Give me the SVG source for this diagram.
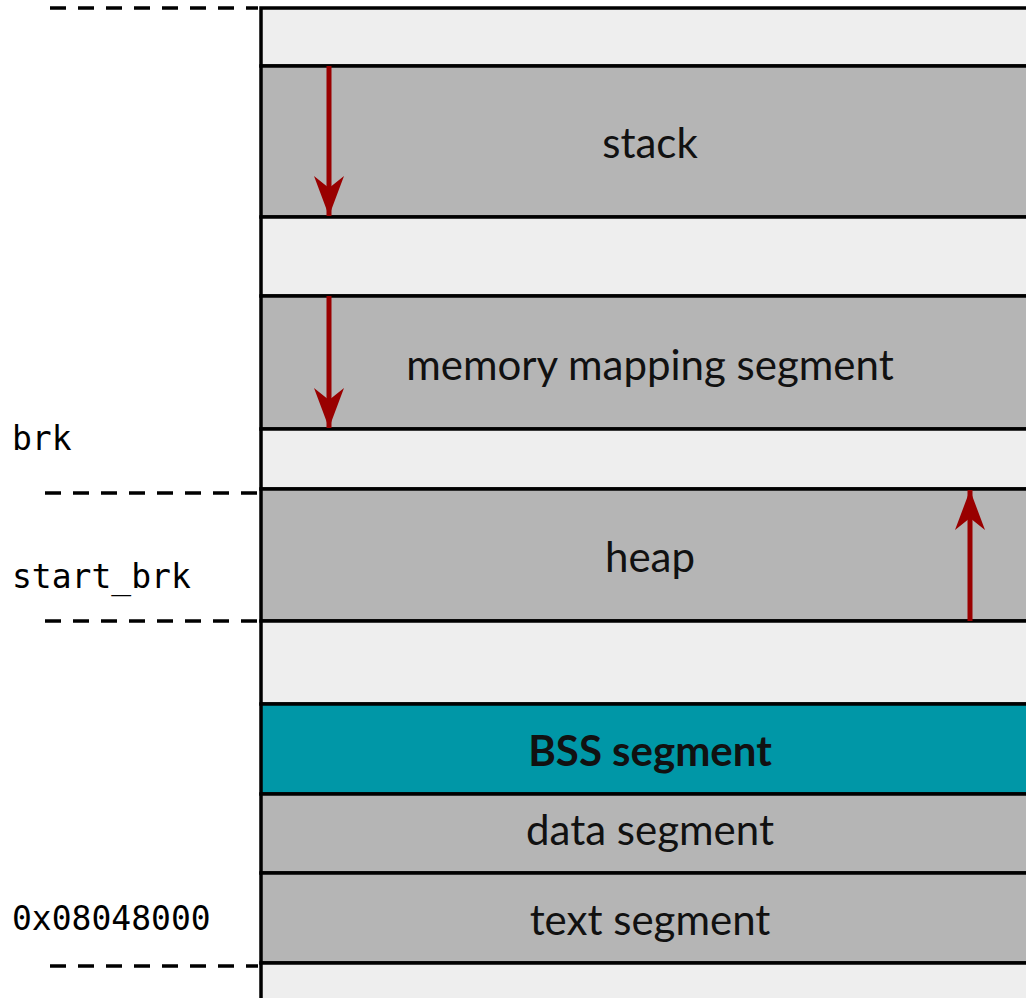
<svg xmlns="http://www.w3.org/2000/svg" width="1026" height="998" viewBox="0 0 1026 998">
  <style>
    .light { fill: #eeeeee; stroke: #000; stroke-width: 3.5; }
    .seg { fill: #b5b5b5; stroke: #000; stroke-width: 3.5; }
    .bss { fill: #0097a7; stroke: #000; stroke-width: 3.5; }
    .lbl { font-family: Lato, "Open Sans", sans-serif; font-size: 42px; fill: #111; text-anchor: middle; }
    .bold { font-weight: bold; }
    .addr { font-family: "DejaVu Sans Mono", "Liberation Mono", monospace; font-size: 33px; fill: #000; }
    .dash { stroke: #000; stroke-width: 3.5; stroke-dasharray: 16 12; fill: none; }
    .arrow { stroke: #990000; stroke-width: 5; fill: none; marker-end: url(#head); }
  </style>
  <defs>
    <marker id="head" viewBox="0 0 40 30" refX="40" refY="15" markerWidth="40" markerHeight="30" markerUnits="userSpaceOnUse" orient="auto">
      <path d="M0,0 L40,15 L0,30 L12,15 Z" fill="#990000"/>
    </marker>
  </defs>
  <rect width="1026" height="998" fill="#fff"/>

  <g id="gap-top"><rect class="light" x="261" y="8" width="800" height="58"/></g>
  <g id="stack"><rect class="seg" x="261" y="66" width="800" height="151"/><text class="lbl" x="650" y="158">stack</text></g>
  <g id="gap-1"><rect class="light" x="261" y="217" width="800" height="79"/></g>
  <g id="mmap"><rect class="seg" x="261" y="296" width="800" height="133"/><text class="lbl" x="650" y="380">memory mapping segment</text></g>
  <g id="gap-2"><rect class="light" x="261" y="429" width="800" height="60"/></g>
  <g id="heap"><rect class="seg" x="261" y="489" width="800" height="132"/><text class="lbl" x="650" y="572">heap</text></g>
  <g id="gap-3"><rect class="light" x="261" y="621" width="800" height="83"/></g>
  <g id="bss"><rect class="bss" x="261" y="704" width="800" height="90"/><text class="lbl bold" x="650" y="766">BSS segment</text></g>
  <g id="data"><rect class="seg" x="261" y="794" width="800" height="79"/><text class="lbl" x="650" y="845">data segment</text></g>
  <g id="text"><rect class="seg" x="261" y="873" width="800" height="90"/><text class="lbl" x="650" y="935">text segment</text></g>
  <g id="gap-bottom"><rect class="light" x="261" y="963" width="800" height="60"/></g>

  <g id="addresses">
    <text class="addr" x="12" y="450">brk</text>
    <text class="addr" x="12" y="588">start_brk</text>
    <text class="addr" x="12" y="930">0x08048000</text>
  </g>

  <g id="connectors">
    <line class="dash" x1="50" y1="8" x2="258" y2="8"/>
    <line class="dash" x1="45" y1="493" x2="258" y2="493"/>
    <line class="dash" x1="45" y1="621" x2="258" y2="621"/>
    <line class="dash" x1="50" y1="966" x2="258" y2="966"/>
    <line class="arrow" x1="329" y1="66" x2="329" y2="216"/>
    <line class="arrow" x1="329" y1="296" x2="329" y2="428"/>
    <line class="arrow" x1="970" y1="621" x2="970" y2="490"/>
  </g>
</svg>
